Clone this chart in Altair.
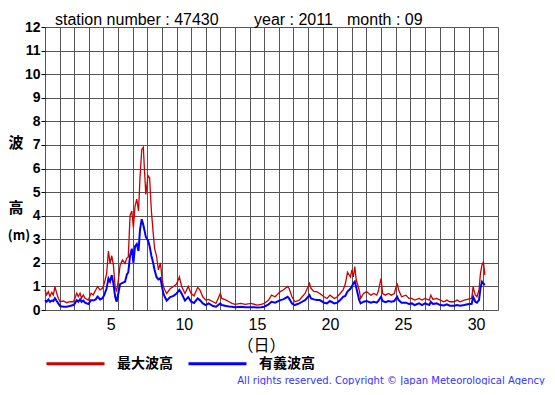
import altair as alt
import pandas as pd

# time in days from 1 Sep 00:00
t = [0.00, 0.11, 0.23, 0.34, 0.46, 0.57, 0.68, 0.80, 0.91, 1.03, 1.25, 1.48, 1.70, 1.94,
     2.05, 2.17, 2.28, 2.40, 2.50, 2.62, 2.74, 2.97, 3.15, 3.30, 3.47, 3.60, 3.77, 3.93,
     4.06, 4.22, 4.34, 4.45, 4.57, 4.68, 4.80, 4.90, 5.02, 5.14, 5.30, 5.48, 5.60, 5.70,
     5.82, 5.94, 6.05, 6.16, 6.28, 6.40, 6.50, 6.62, 6.73, 6.80, 6.90, 7.05, 7.16, 7.28,
     7.40, 7.50, 7.63, 7.76, 7.90, 8.00, 8.10, 8.20, 8.33, 8.56, 8.80, 9.00, 9.20, 9.35,
     9.58, 9.80, 10.00, 10.20, 10.45, 10.60, 10.80, 11.00, 11.20, 11.50, 11.70, 12.00,
     12.10, 12.40, 12.60, 12.80, 13.00, 13.40, 13.70, 14.10, 14.50, 14.80, 15.00, 15.30,
     15.50, 15.75, 16.10, 16.30, 16.60, 16.70, 16.90, 17.10, 17.40, 17.60, 17.80, 18.10,
     18.20, 18.40, 18.60, 18.80, 19.10, 19.30, 19.50, 19.80, 20.00, 20.20, 20.40, 20.55,
     20.70, 20.90, 21.00, 21.10, 21.20, 21.30, 21.50, 21.60, 21.80, 22.00, 22.30, 22.50,
     22.70, 22.80, 23.00, 23.10, 23.30, 23.50, 23.70, 23.90, 24.10, 24.20, 24.40, 24.70,
     24.90, 25.10, 25.30, 25.60, 25.80, 26.00, 26.30, 26.40, 26.55, 26.80, 27.05, 27.30,
     27.50, 27.70, 28.00, 28.20, 28.40, 28.70, 28.90, 29.20, 29.30, 29.35, 29.45, 29.56,
     29.70, 29.80, 29.90, 30.00, 30.10]

max_wave = [0.85, 0.64, 0.78, 0.57, 0.75, 0.64, 0.99, 0.71, 0.50, 0.35, 0.38, 0.31, 0.35, 0.35,
            0.50, 0.71, 0.57, 0.71, 0.50, 0.64, 0.50, 0.42, 0.71, 0.64, 0.85, 0.99, 0.85, 0.92,
            1.13, 1.55, 2.50, 1.98, 2.30, 1.90, 0.99, 0.78, 1.27, 1.90, 2.12, 1.98, 2.20, 2.25,
            4.00, 4.20, 3.50, 4.40, 4.70, 4.20, 5.60, 6.80, 6.90, 6.00, 4.90, 5.70, 5.60, 4.20,
            3.30, 2.60, 2.30, 1.70, 2.00, 1.40, 1.00, 0.85, 0.70, 0.90, 1.00, 1.10, 1.40, 1.00,
            0.70, 1.00, 0.70, 0.60, 0.96, 0.85, 0.56, 0.42, 0.45, 0.35, 0.28, 0.70,
            0.49, 0.42, 0.35, 0.28, 0.24, 0.28, 0.24, 0.28, 0.21, 0.24, 0.28, 0.42,
            0.63, 0.56, 0.78, 0.85, 1.00, 0.92, 0.56, 0.35, 0.42, 0.56, 0.70, 1.13,
            0.92, 0.78, 0.78, 0.70, 0.56, 0.49, 0.63, 0.49, 0.56, 0.70, 0.85, 1.10,
            1.60, 1.40, 1.70, 1.40, 1.84, 1.27, 0.85, 0.49, 0.70, 0.78, 0.63, 0.70,
            0.63, 0.78, 1.34, 0.70, 0.63, 0.70, 0.63, 0.70, 1.13, 0.85, 0.56, 0.63,
            0.49, 0.49, 0.42, 0.49, 0.42, 0.49, 0.42, 0.63, 0.45, 0.49, 0.42, 0.35,
            0.42, 0.35, 0.35, 0.42, 0.35, 0.42, 0.45, 0.49, 1.00, 0.85, 0.63, 0.56,
            0.85, 1.55, 1.90, 2.05, 1.48]

sig_wave = [0.42, 0.35, 0.45, 0.35, 0.40, 0.38, 0.50, 0.38, 0.28, 0.17, 0.14, 0.14, 0.17, 0.21,
            0.28, 0.42, 0.35, 0.45, 0.35, 0.40, 0.31, 0.25, 0.42, 0.40, 0.45, 0.57, 0.45, 0.50,
            0.64, 0.92, 1.34, 1.20, 1.48, 1.13, 0.57, 0.35, 0.71, 1.10, 1.15, 1.20, 1.50, 1.60,
            2.30, 2.60, 2.00, 2.70, 2.80, 2.50, 3.40, 3.85, 3.60, 3.40, 3.10, 2.95, 2.70, 2.30,
            2.00, 1.70, 1.40, 1.30, 1.35, 1.00, 0.70, 0.55, 0.40, 0.55, 0.60, 0.70, 0.85, 0.70,
            0.40, 0.55, 0.35, 0.30, 0.49, 0.42, 0.28, 0.21, 0.28, 0.17, 0.14, 0.28,
            0.21, 0.17, 0.15, 0.14, 0.12, 0.14, 0.12, 0.12, 0.11, 0.12, 0.14, 0.24,
            0.35, 0.31, 0.42, 0.45, 0.56, 0.49, 0.28, 0.21, 0.28, 0.35, 0.42, 0.63,
            0.49, 0.45, 0.42, 0.42, 0.31, 0.28, 0.38, 0.28, 0.31, 0.42, 0.56, 0.60,
            0.78, 0.90, 1.00, 1.13, 1.20, 0.95, 0.42, 0.28, 0.35, 0.38, 0.31, 0.35,
            0.31, 0.38, 0.56, 0.38, 0.33, 0.38, 0.35, 0.38, 0.56, 0.42, 0.31, 0.31,
            0.26, 0.28, 0.21, 0.28, 0.21, 0.28, 0.21, 0.35, 0.26, 0.28, 0.21, 0.19,
            0.24, 0.18, 0.18, 0.21, 0.18, 0.21, 0.24, 0.26, 0.56, 0.49, 0.35, 0.31,
            0.42, 0.92, 1.20, 1.13, 1.06]

series_names = ["最大波高", "有義波高"]
series_colors = ["#cc0000", "#0000ff"]
y_ticks = list(range(0, 13))
x_grid = list(range(0, 32))
header_parts = ["station number : 47430", "year : 2011", "month : 09"]
y_title_parts = ["波", "高", "(m)"]
x_title = "（日）"
copyright_text = "All rights reserved. Copyright © Japan Meteorological Agency"

df = pd.DataFrame({"t": t, series_names[0]: max_wave, series_names[1]: sig_wave})
long = df.melt("t", var_name="series", value_name="h")

color_scale = alt.Scale(domain=series_names, range=series_colors)

x_enc = alt.X(
    "t:Q",
    scale=alt.Scale(domain=[0, 31], nice=False, zero=False),
    axis=alt.Axis(
        values=x_grid, grid=True, gridColor="#555555", gridWidth=1, domain=False,
        ticks=False, labelExpr="(datum.value + 1) % 5 == 0 ? '' + (datum.value + 1) : ''",
        labelOffset=7.3, labelPadding=6, labelFontSize=16, labelFont="Liberation Sans",
        labelColor="black", labelFlush=False, labelOverlap=False, labelBound=False,
        title=x_title, titleFont="Noto Sans CJK JP", titleFontSize=16,
        titleFontWeight="normal", titleX=216, titleY=35, titleAlign="center",
        titleBaseline="middle", titleColor="black",
    ),
)
y_enc = alt.Y(
    "h:Q",
    scale=alt.Scale(domain=[0, 12], nice=False),
    axis=alt.Axis(
        values=y_ticks, grid=True, gridColor="#555555", gridWidth=1, domain=False,
        tickSize=4, tickColor="black", labelFont="Liberation Sans", labelFontWeight="bold",
        labelFontSize=14, labelPadding=1, labelColor="black", title=None,
    ),
)

legend = alt.Legend(
    orient="none", legendX=0, legendY=306, direction="horizontal", title=None,
    symbolType="stroke", symbolSize=3364, symbolStrokeWidth=3, labelOffset=11,
    columnPadding=9, labelFont="Noto Sans CJK JP", labelFontSize=14,
    labelFontWeight="bold", labelColor="black", padding=0,
)

red = alt.Chart(long).transform_filter(alt.datum.series == series_names[0]).mark_line(
    strokeWidth=1.3
).encode(x=x_enc, y=y_enc, color=alt.Color("series:N", scale=color_scale, legend=legend))

blue = alt.Chart(long).transform_filter(alt.datum.series == series_names[1]).mark_line(
    strokeWidth=2
).encode(x=x_enc, y=y_enc, color=alt.Color("series:N", scale=color_scale, legend=legend))

note_src = pd.DataFrame({"a": [0]})


def note(txt, px, py, **kw):
    return alt.Chart(note_src).mark_text(text=txt, **kw).encode(x=alt.value(px), y=alt.value(py))


head_style = dict(align="left", baseline="alphabetic", font="Liberation Sans", fontSize=16, color="black")
h1 = note(header_parts[0], 10, -2, **head_style)
h2 = note(header_parts[1], 209, -2, **head_style)
h3 = note(header_parts[2], 302, -2, **head_style)

yt_style = dict(align="center", baseline="middle", font="Noto Sans CJK JP", fontSize=15,
                fontWeight="bold", color="black")
yt1 = note(y_title_parts[0], -29, 115.5, **yt_style)
yt2 = note(y_title_parts[1], -29, 180.5, **yt_style)
yt3 = note(y_title_parts[2], -26, 208.5, align="center", baseline="middle",
           font="Noto Sans CJK JP", fontSize=13, fontWeight="bold", color="black")

copy = note(copyright_text, 500, 357, align="right", baseline="alphabetic",
            font="DejaVu Sans", fontSize=10, color="#3333ff")

chart = alt.layer(red, blue, h1, h2, h3, yt1, yt2, yt3, copy).properties(
    width=453, height=283,
    autosize=alt.AutoSizeParams(type="none"),
    padding={"left": 37, "top": 19, "right": 49, "bottom": 75},
).configure_view(stroke="black", strokeWidth=2).configure(background="white")

chart.save("out.html", embed_options={"renderer": "svg", "actions": False})
